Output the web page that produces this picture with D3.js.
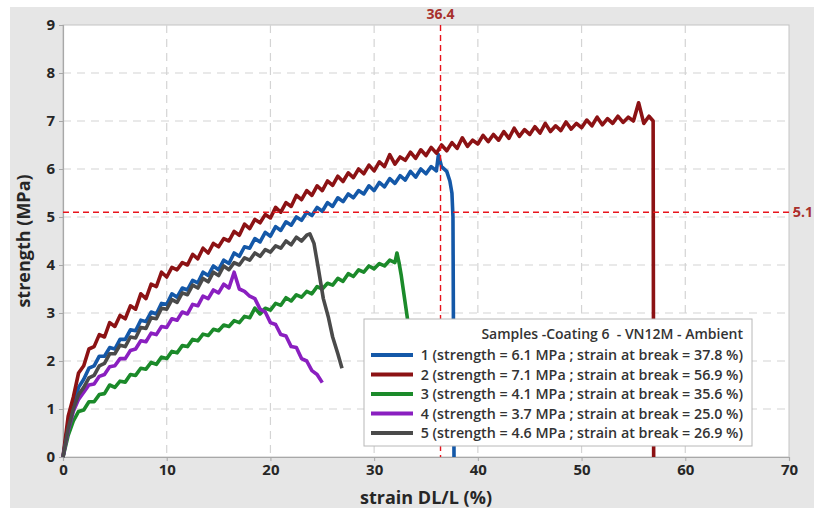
<!DOCTYPE html>
<html><head><meta charset="utf-8">
<script src="https://cdn.jsdelivr.net/npm/d3@7"></script>
<style>
html,body{margin:0;padding:0;background:#fff;}
svg{display:block;font-family:"Open Sans","Noto Sans",sans-serif;}
</style></head>
<body><svg id="c" width="814" height="508"></svg>
<script>
// ---- data ----
const xTicks = [0,10,20,30,40,50,60,70];
const yTicks = [0,1,2,3,4,5,6,7,8,9];
const sampleStep = 0.5; // strain sampling step (%) of the listed strength values
const sampleNames = ["1","2","3","4","5"];
const sampleStrength = [6.1, 7.1, 4.1, 3.7, 4.6];
const sampleBreak = [37.8, 56.9, 35.6, 25.0, 26.9];
const sampleColors = ["#1458a8","#8c1214","#1b8a2a","#8a1fc0","#4a4a4a"];
const refStrain = 36.4;
const refStrength = 5.1;
const legendTitle = "Samples -Coating 6  - VN12M - Ambient";

const s1 = [0,0.7,1.1,1.45,1.62,1.85,1.9,2.1,2.1,2.28,2.25,2.45,2.45,2.65,2.63,2.85,2.82,3.02,2.98,3.2,3.18,3.4,3.33,3.52,3.48,3.68,3.63,3.85,3.78,3.98,3.9,4.1,4.03,4.25,4.18,4.38,4.35,4.55,4.48,4.68,4.6,4.8,4.72,4.9,4.83,5.0,4.93,5.1,5.03,5.2,5.12,5.3,5.22,5.4,5.32,5.48,5.4,5.55,5.48,5.65,5.55,5.72,5.63,5.8,5.7,5.86,5.77,5.95,5.83,6.0,5.9,6.05,5.96];
const s1Tail = [[36.2,6.3],[36.5,6.05],[37.0,5.95],[37.3,5.75],[37.5,5.5],[37.6,5.0],[37.7,0]];

const s2 = [0,0.85,1.25,1.75,1.9,2.25,2.3,2.55,2.5,2.8,2.72,2.95,2.88,3.15,3.08,3.4,3.3,3.6,3.55,3.85,3.75,3.95,3.9,4.05,4.0,4.22,4.13,4.35,4.25,4.45,4.38,4.55,4.5,4.7,4.62,4.85,4.76,4.95,4.88,5.05,4.98,5.2,5.1,5.3,5.22,5.45,5.36,5.55,5.45,5.65,5.55,5.75,5.66,5.85,5.74,5.92,5.82,6.0,5.9,6.08,5.96,6.15,6.05,6.3,6.1,6.25,6.18,6.35,6.22,6.4,6.28,6.45,6.33,6.5,6.38,6.55,6.43,6.65,6.47,6.6,6.52,6.7,6.57,6.72,6.6,6.78,6.64,6.85,6.68,6.82,6.72,6.88,6.75,6.95,6.78,6.9,6.8,6.98,6.83,6.95,6.86,7.02,6.9,7.08,6.92,7.05,6.95,7.1,6.97,7.08,7.0,7.38,6.95,7.1];
const s2Tail = [[56.9,7.0],[56.95,0]];

const s3 = [0,0.45,0.75,0.95,0.98,1.15,1.15,1.3,1.32,1.5,1.45,1.58,1.56,1.72,1.7,1.85,1.83,1.97,1.93,2.08,2.05,2.2,2.17,2.32,2.3,2.45,2.42,2.56,2.53,2.66,2.63,2.75,2.72,2.84,2.8,2.93,2.9,3.1,2.98,3.1,3.06,3.2,3.16,3.32,3.25,3.38,3.33,3.45,3.4,3.55,3.5,3.62,3.58,3.72,3.66,3.82,3.76,3.9,3.85,3.98,3.92,4.03,3.98,4.1,4.05];
const s3Tail = [[32.2,4.25],[32.4,4.05],[32.6,3.8],[32.8,3.5],[33.2,2.9],[33.6,2.2],[34.2,1.0],[34.5,0.3]];

const s4 = [0,0.55,0.95,1.2,1.35,1.5,1.52,1.68,1.72,1.88,1.9,2.05,2.05,2.22,2.25,2.42,2.4,2.58,2.55,2.72,2.7,2.88,2.85,3.02,2.98,3.18,3.15,3.35,3.3,3.48,3.42,3.6,3.52,3.85,3.5,3.45,3.35,3.3,3.08,3.02,2.8,2.76,2.55,2.52,2.3,2.28,2.05,2.0,1.8,1.72,1.55];
const s4Tail = [];

const s5 = [0,0.6,1.0,1.3,1.45,1.65,1.7,1.9,1.95,2.15,2.15,2.33,2.3,2.5,2.48,2.7,2.68,2.9,2.88,3.1,3.08,3.28,3.22,3.42,3.38,3.58,3.52,3.72,3.65,3.85,3.78,3.98,3.9,4.05,4.0,4.15,4.1,4.25,4.18,4.32,4.27,4.4,4.35,4.5,4.42,4.58,4.5,4.62];
const s5Tail = [[23.8,4.65],[24.2,4.45],[24.6,3.95],[25.1,3.3],[25.6,2.9],[26.0,2.5],[26.5,2.15],[26.9,1.85]];

const seriesY = [s1,s2,s3,s4,s5];
const seriesTail = [s1Tail,s2Tail,s3Tail,s4Tail,s5Tail];

// ---- drawing ----
const svg = d3.select("#c");
const W = 814, H = 508;
const plot = {l:63, r:789, t:25, b:457};
const x = d3.scaleLinear().domain([0,70]).range([plot.l, plot.r]);
const y = d3.scaleLinear().domain([0,9]).range([plot.b, plot.t]);

// outer panel
svg.append("rect").attr("x",10).attr("y",7).attr("width",W-10).attr("height",H-7).attr("fill","#e6e6e6");
svg.append("rect").attr("x",plot.l).attr("y",plot.t).attr("width",plot.r-plot.l).attr("height",plot.b-plot.t)
  .attr("fill","#fff").attr("stroke","#c4c4c4").attr("stroke-width",1);

// grid
const grid = svg.append("g");
grid.selectAll("line.vx").data(xTicks.filter(d=>d>0 && d<70)).join("line")
  .attr("x1",d=>x(d)).attr("x2",d=>x(d)).attr("y1",plot.t).attr("y2",plot.b)
  .attr("stroke","#d4d4d4").attr("stroke-width",1.2).attr("stroke-dasharray","8,6");
grid.selectAll("line.hy").data(yTicks.filter(d=>d>0 && d<9)).join("line")
  .attr("x1",plot.l).attr("x2",plot.r).attr("y1",d=>y(d)).attr("y2",d=>y(d))
  .attr("stroke","#d4d4d4").attr("stroke-width",1.2).attr("stroke-dasharray","8,6");

// axes
const xAxis = svg.append("g").attr("transform",`translate(0,${plot.b})`)
  .call(d3.axisBottom(x).tickValues(xTicks).tickSize(4).tickPadding(3));
const yAxis = svg.append("g").attr("transform",`translate(${plot.l},0)`)
  .call(d3.axisLeft(y).tickValues(yTicks).tickSize(4).tickPadding(4));
[xAxis,yAxis].forEach(a=>{
  a.select(".domain").attr("stroke","#a8a8a8").attr("stroke-width",1.2);
  a.selectAll(".tick line").attr("stroke","#a8a8a8");
  a.selectAll(".tick text").attr("fill","#262626").attr("font-size",15).attr("font-weight",700)
   .attr("font-family","'Open Sans',sans-serif");
});

// series
const line = d3.line().x(d=>x(d[0])).y(d=>y(d[1]));
seriesY.forEach((ys,i)=>{
  const pts = ys.map((v,k)=>[k*sampleStep, v]).concat(seriesTail[i]);
  svg.append("path").datum(pts).attr("d",line).attr("fill","none")
    .attr("stroke",sampleColors[i]).attr("stroke-width",3.6).attr("stroke-linejoin","round");
});

// reference lines
svg.append("line").attr("x1",x(refStrain)).attr("x2",x(refStrain)).attr("y1",plot.t).attr("y2",plot.b)
  .attr("stroke","#e8141c").attr("stroke-width",1.4).attr("stroke-dasharray","6,4");
svg.append("line").attr("x1",plot.l).attr("x2",plot.r+6).attr("y1",y(refStrength)).attr("y2",y(refStrength))
  .attr("stroke","#e8141c").attr("stroke-width",1.4).attr("stroke-dasharray","6,4");
svg.append("text").attr("x",x(refStrain)).attr("y",19).attr("text-anchor","middle")
  .attr("fill","#a8302c").attr("font-size",14).attr("font-weight",700).text(refStrain.toFixed(1));
svg.append("text").attr("x",813).attr("y",y(refStrength)+5).attr("text-anchor","end")
  .attr("fill","#a8302c").attr("font-size",14).attr("font-weight",700).text(refStrength.toFixed(1));

// axis titles
svg.append("text").attr("transform",`translate(30,${(plot.t+plot.b)/2}) rotate(-90)`)
  .attr("text-anchor","middle").attr("fill","#262626").attr("font-size",18).attr("font-weight",700)
  .text("strength (MPa)");
svg.append("text").attr("x",(plot.l+plot.r)/2).attr("y",504).attr("text-anchor","middle")
  .attr("fill","#262626").attr("font-size",18).attr("font-weight",700).text("strain DL/L (%)");

// legend
const lg = svg.append("g");
lg.append("rect").attr("x",364).attr("y",319).attr("width",388).attr("height",127)
  .attr("fill","#fff").attr("stroke","#b8b8b8").attr("stroke-width",1);
lg.append("text").attr("x",743).attr("y",339).attr("text-anchor","end").attr("fill","#333")
  .attr("font-size",14).attr("font-weight",600).style("white-space","pre").text(legendTitle);
sampleNames.forEach((n,i)=>{
  const yy = 355 + i*19.5;
  lg.append("line").attr("x1",371).attr("x2",413).attr("y1",yy).attr("y2",yy)
    .attr("stroke",sampleColors[i]).attr("stroke-width",4);
  lg.append("text").attr("x",743).attr("y",yy+5).attr("text-anchor","end").attr("fill","#333")
    .attr("font-size",14.3).attr("font-weight",600)
    .text(`${n} (strength = ${sampleStrength[i].toFixed(1)} MPa ; strain at break = ${sampleBreak[i].toFixed(1)} %)`);
});
</script></body></html>
